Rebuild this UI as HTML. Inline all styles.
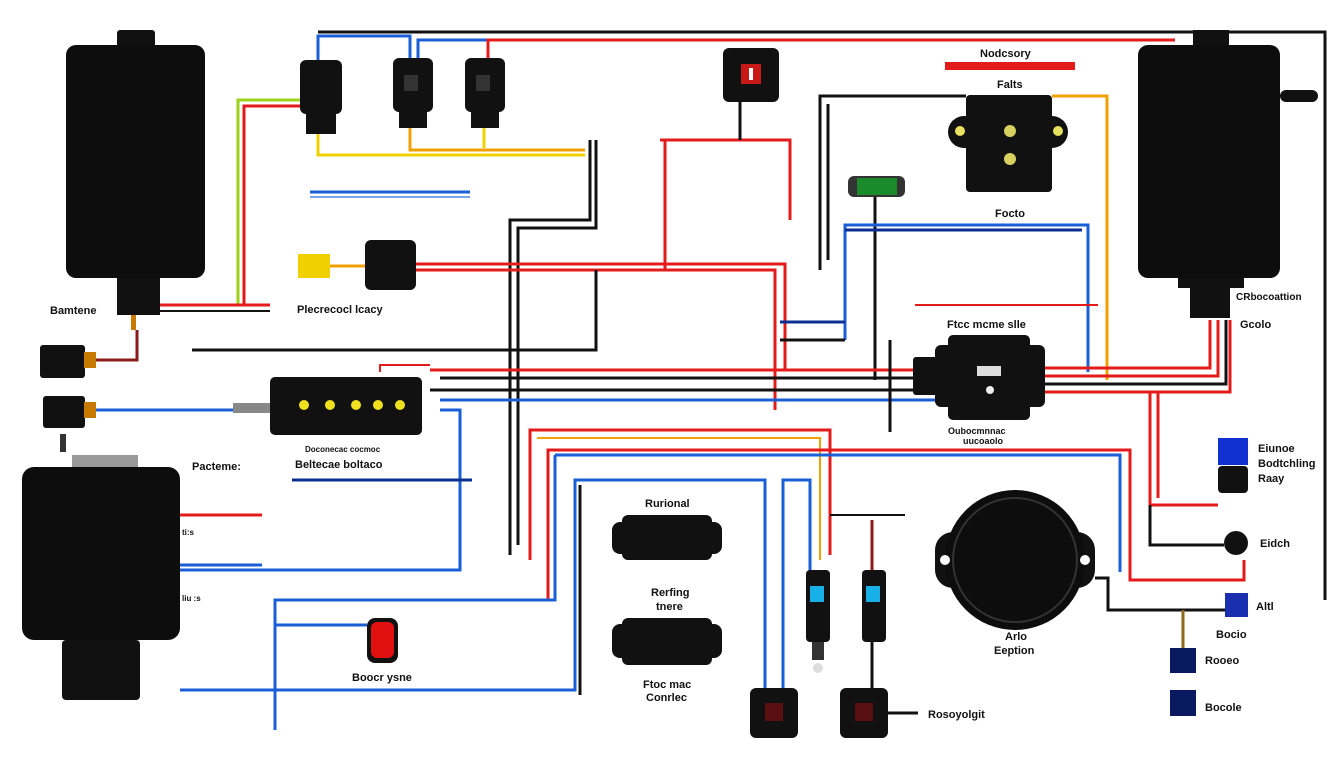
<!DOCTYPE html>
<html><head><style>
html,body{margin:0;padding:0;background:#fff;}
svg{display:block}
text{font-family:"Liberation Sans",sans-serif;font-weight:bold;font-size:11px;fill:#111}
</style></head><body>
<svg width="1344" height="768" viewBox="0 0 1344 768" xmlns="http://www.w3.org/2000/svg">
<rect width="1344" height="768" fill="#fff"/>
<g fill="none" stroke-width="3">
<!-- top frame -->
<path d="M318 32 H1325 V600" stroke="#111"/>
<path d="M318 60 V36 H410 V60" stroke="#1a5fd8"/>
<path d="M418 58 V40 H488 V58" stroke="#1a5fd8"/>
<path d="M488 58 V40 H1175" stroke="#e31b1b"/>
<path d="M238 305 V100 H300" stroke="#9ed11a"/>
<path d="M244 305 V106 H300" stroke="#e31b1b"/>
<path d="M318 130 V155 H585" stroke="#f0d000"/>
<path d="M410 128 V150 H585" stroke="#f0a000"/>
<path d="M484 128 V148" stroke="#f0d000"/>
<path d="M590 140 V220 H510 V555" stroke="#111"/>
<path d="M596 140 V228 H518 V545" stroke="#111"/>
<path d="M310 192 H470" stroke="#1a5fd8"/>
<path d="M310 197 H470" stroke="#7aa6e8" stroke-width="2"/>
<path d="M160 305 H270" stroke="#e31b1b"/>
<path d="M160 311 H270" stroke="#111" stroke-width="2"/>
<path d="M330 266 H365" stroke="#f0a000"/>
<path d="M416 264 H785 V370" stroke="#e31b1b"/>
<path d="M416 270 H775 V410" stroke="#e31b1b"/>
<path d="M660 140 H790 V220" stroke="#e31b1b"/>
<path d="M665 140 V270" stroke="#e31b1b"/>
<path d="M740 102 V140" stroke="#111"/>
<path d="M192 350 H596 V270" stroke="#111"/>
<path d="M95 360 H137 V330" stroke="#8b1a1a"/>
<path d="M95 410 H240" stroke="#1a5fd8"/>
<path d="M820 270 V96 H966" stroke="#111"/>
<path d="M828 260 V104" stroke="#111"/>
<path d="M1052 96 H1107 V380" stroke="#f0a000"/>
<path d="M875 197 V380" stroke="#111"/>
<path d="M845 340 V225 H1088 V372" stroke="#1a5fd8"/>
<path d="M845 230 H1082" stroke="#0a2f90"/>
<path d="M780 322 H845" stroke="#0a2f90"/>
<path d="M780 340 H845" stroke="#111"/>
<path d="M915 305 H1098" stroke="#e31b1b" stroke-width="2"/>
<path d="M430 370 H915" stroke="#e31b1b"/>
<path d="M440 378 H915" stroke="#111"/>
<path d="M430 390 H920" stroke="#111"/>
<path d="M440 400 H940" stroke="#1a5fd8"/>
<path d="M440 410 H460 V570 H180" stroke="#1a5fd8"/>
<path d="M380 372 V365 H430" stroke="#e31b1b" stroke-width="2"/>
<path d="M1045 368 H1210 V320" stroke="#e31b1b"/>
<path d="M1045 376 H1218 V320" stroke="#e31b1b"/>
<path d="M1045 384 H1226 V320" stroke="#111"/>
<path d="M1045 392 H1230 V320" stroke="#e31b1b"/>
<path d="M1150 392 V505 H1218" stroke="#e31b1b"/>
<path d="M1158 392 V498" stroke="#e31b1b"/>
<path d="M890 340 V432" stroke="#111"/>
<path d="M530 560 V430 H830 V555" stroke="#e31b1b"/>
<path d="M537 438 H820 V560" stroke="#f0a000" stroke-width="2"/>
<path d="M548 600 V450 H1130 V580 H1244 V560" stroke="#e31b1b"/>
<path d="M555 455 H1120 V572" stroke="#1a5fd8"/>
<path d="M180 690 H575 V480 H765 V690" stroke="#1a5fd8"/>
<path d="M580 695 V485" stroke="#111"/>
<path d="M275 730 V600 H555 V455" stroke="#1a5fd8"/>
<path d="M783 690 V480 H810 V572" stroke="#1a5fd8"/>
<path d="M275 625 H367" stroke="#1a5fd8"/>
<path d="M180 515 H262" stroke="#e31b1b"/>
<path d="M180 565 H262" stroke="#1a5fd8"/>
<path d="M292 480 H472" stroke="#0a2f90"/>
<path d="M830 515 H905" stroke="#111" stroke-width="2"/>
<path d="M872 520 V570" stroke="#8b1a1a"/>
<path d="M872 640 V690" stroke="#111"/>
<path d="M888 713 H918" stroke="#111"/>
<path d="M1095 578 H1108 V610 H1225" stroke="#111"/>
<path d="M1150 505 V545 H1224" stroke="#111"/>
<path d="M1183 610 V648" stroke="#8b6a1a"/>
</g>
<!-- left top box -->
<rect x="117" y="30" width="38" height="20" rx="3" fill="#111"/>
<rect x="66" y="45" width="139" height="233" rx="10" fill="#0d0d0d"/>
<rect x="117" y="278" width="43" height="37" fill="#111"/>
<rect x="131" y="315" width="5" height="15" fill="#c87a00"/>
<text x="50" y="314">Bamtene</text>
<rect x="40" y="345" width="45" height="33" rx="3" fill="#111"/><rect x="84" y="352" width="12" height="16" fill="#c87a00"/>
<rect x="43" y="396" width="42" height="32" rx="3" fill="#111"/><rect x="84" y="402" width="12" height="16" fill="#c87a00"/>
<rect x="60" y="434" width="6" height="18" fill="#333"/>
<!-- lower left box -->
<rect x="72" y="455" width="66" height="15" fill="#999"/>
<rect x="22" y="467" width="158" height="173" rx="12" fill="#0d0d0d"/>
<rect x="62" y="640" width="78" height="60" rx="4" fill="#111"/>
<text x="192" y="470">Pacteme:</text>
<text x="182" y="535" style="font-size:8px">ti:s</text>
<text x="182" y="601" style="font-size:8px">liu :s</text>
<!-- relays -->
<rect x="300" y="60" width="42" height="54" rx="6" fill="#111"/><rect x="306" y="112" width="30" height="22" fill="#111"/>
<rect x="393" y="58" width="40" height="54" rx="6" fill="#111"/><rect x="399" y="110" width="28" height="18" fill="#111"/><rect x="404" y="75" width="14" height="16" fill="#333"/>
<rect x="465" y="58" width="40" height="54" rx="6" fill="#111"/><rect x="471" y="110" width="28" height="18" fill="#111"/><rect x="476" y="75" width="14" height="16" fill="#333"/>
<rect x="723" y="48" width="56" height="54" rx="6" fill="#111"/><rect x="741" y="64" width="20" height="20" fill="#c81818"/><rect x="749" y="68" width="4" height="12" fill="#fff"/>
<!-- yellow connector & square -->
<rect x="298" y="254" width="32" height="24" fill="#f0d000"/>
<rect x="365" y="240" width="51" height="50" rx="6" fill="#111"/>
<text x="297" y="313">Plecrecocl lcacy</text>
<!-- strip -->
<rect x="270" y="377" width="152" height="58" rx="5" fill="#111"/>
<g fill="#f0e020"><circle cx="304" cy="405" r="5"/><circle cx="330" cy="405" r="5"/><circle cx="356" cy="405" r="5"/><circle cx="378" cy="405" r="5"/><circle cx="400" cy="405" r="5"/></g>
<rect x="233" y="403" width="37" height="10" fill="#888"/>
<text x="305" y="452" style="font-size:8px">Doconecac cocmoc</text>
<text x="295" y="468">Beltecae boltaco</text>
<!-- right top -->
<rect x="1193" y="30" width="36" height="20" fill="#111"/>
<rect x="1138" y="45" width="142" height="233" rx="10" fill="#0d0d0d"/>
<rect x="1280" y="90" width="38" height="12" rx="6" fill="#111"/>
<rect x="1178" y="278" width="66" height="10" fill="#111"/>
<rect x="1190" y="285" width="40" height="33" fill="#111"/>
<text x="1236" y="300" style="font-size:10px">CRbocoattion</text>
<text x="1240" y="328">Gcolo</text>
<rect x="945" y="62" width="130" height="8" fill="#e31b1b"/>
<text x="980" y="57">Nodcsory</text>
<text x="997" y="88">Falts</text>
<rect x="948" y="116" width="120" height="32" rx="16" fill="#111"/>
<rect x="966" y="95" width="86" height="97" rx="4" fill="#111"/>
<circle cx="960" cy="131" r="5" fill="#e8e060"/><circle cx="1058" cy="131" r="5" fill="#e8e060"/>
<circle cx="1010" cy="131" r="6" fill="#d8d060"/><circle cx="1010" cy="159" r="6" fill="#d8d060"/>
<text x="995" y="217">Focto</text>
<rect x="848" y="176" width="57" height="21" rx="6" fill="#333"/><rect x="857" y="178" width="40" height="17" fill="#1a8a2a"/>
<!-- center module -->
<text x="947" y="328">Ftcc mcme slle</text>
<rect x="913" y="357" width="30" height="38" rx="3" fill="#111"/>
<rect x="935" y="345" width="110" height="62" rx="6" fill="#111"/>
<rect x="948" y="335" width="82" height="85" rx="5" fill="#111"/>
<rect x="977" y="366" width="24" height="10" fill="#ddd"/><circle cx="990" cy="390" r="4" fill="#eee"/>
<text x="948" y="434" style="font-size:9px">Oubocmnnac</text>
<text x="963" y="444" style="font-size:9px">uucoaolo</text>
<!-- middle -->
<text x="645" y="507">Rurional</text>
<rect x="612" y="522" width="110" height="32" rx="8" fill="#111"/><rect x="622" y="515" width="90" height="45" rx="6" fill="#111"/>
<text x="651" y="596">Rerfing</text><text x="656" y="610">tnere</text>
<rect x="612" y="624" width="110" height="34" rx="8" fill="#111"/><rect x="622" y="618" width="90" height="47" rx="6" fill="#111"/>
<text x="643" y="688">Ftoc mac</text><text x="646" y="701">Conrlec</text>
<rect x="367" y="618" width="31" height="45" rx="8" fill="#111"/><rect x="371" y="622" width="23" height="36" rx="6" fill="#e01010"/>
<text x="352" y="681">Boocr ysne</text>
<rect x="806" y="570" width="24" height="72" rx="4" fill="#111"/><rect x="810" y="586" width="14" height="16" fill="#18b0e8"/><rect x="812" y="642" width="12" height="18" fill="#333"/><circle cx="818" cy="668" r="5" fill="#ddd"/>
<rect x="862" y="570" width="24" height="72" rx="4" fill="#111"/><rect x="866" y="586" width="14" height="16" fill="#18b0e8"/>
<rect x="750" y="688" width="48" height="50" rx="6" fill="#111"/><rect x="765" y="703" width="18" height="18" fill="#5a1010"/>
<rect x="840" y="688" width="48" height="50" rx="6" fill="#111"/><rect x="855" y="703" width="18" height="18" fill="#5a1010"/>
<text x="928" y="718">Rosoyolgit</text>
<!-- speaker -->
<rect x="935" y="532" width="160" height="56" rx="18" fill="#111"/>
<circle cx="1015" cy="560" r="70" fill="#0d0d0d"/>
<circle cx="1015" cy="560" r="62" fill="none" stroke="#333" stroke-width="2"/>
<circle cx="945" cy="560" r="5" fill="#fff"/><circle cx="1085" cy="560" r="5" fill="#fff"/>
<text x="1005" y="640">Arlo</text><text x="994" y="654">Eeption</text>
<!-- right small -->
<rect x="1218" y="438" width="30" height="27" fill="#1030d0"/>
<rect x="1218" y="466" width="30" height="27" rx="4" fill="#111"/>
<text x="1258" y="452">Eiunoe</text><text x="1258" y="467">Bodtchling</text><text x="1258" y="482">Raay</text>
<circle cx="1236" cy="543" r="12" fill="#111"/><text x="1260" y="547">Eidch</text>
<rect x="1225" y="593" width="23" height="24" fill="#1a2fb0"/><text x="1256" y="610">Altl</text>
<text x="1216" y="638">Bocio</text>
<rect x="1170" y="648" width="26" height="25" fill="#0a1a60"/><text x="1205" y="664">Rooeo</text>
<rect x="1170" y="690" width="26" height="26" fill="#0a1a60"/><text x="1205" y="711">Bocole</text>
</svg>
</body></html>
